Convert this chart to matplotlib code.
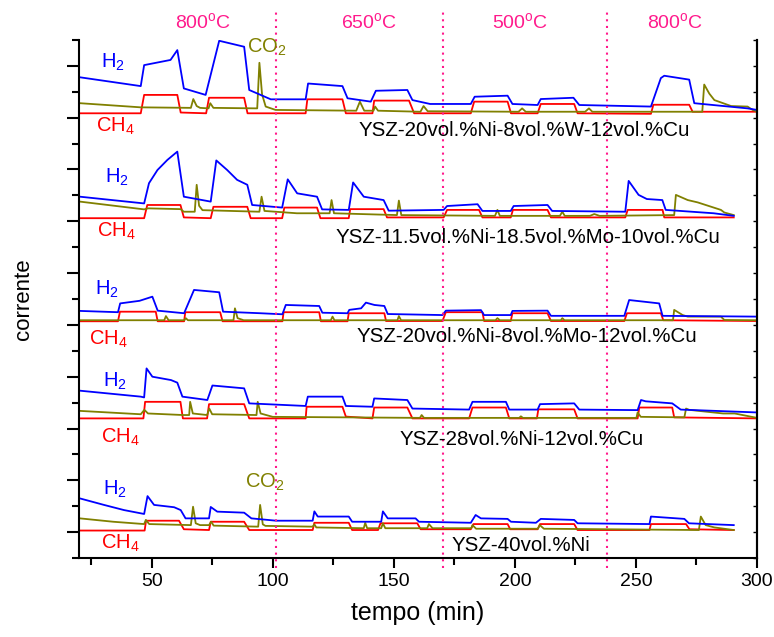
import numpy as np
import matplotlib
matplotlib.use('Agg')
import matplotlib.pyplot as plt
from matplotlib.ticker import FixedLocator, MultipleLocator
import matplotlib.transforms as mtransforms

plt.rcParams['font.family'] = ['Liberation Sans', 'DejaVu Sans']
plt.rcParams['mathtext.fontset'] = 'custom'
plt.rcParams['mathtext.rm'] = 'Liberation Sans'

BLUE = '#0000ff'
RED = '#ff0000'
OLIVE = '#808000'
PINK = '#ff1a8c'

# --- YSZ-20Ni-8W-12Cu (top trace group) ---
w_h2_t = [20.4, 45.5, 46.9, 57.8, 60.6, 63.3, 72.3, 77.9, 88.2, 90.3, 99.2, 113.6, 114.6, 128.8, 130.9, 140.5,
          142.6, 155.6, 157.7, 165.0, 181.8, 183.4, 197.0, 199.0, 209.4, 210.7, 224.2, 226.6, 256.2, 260.3,
          261.7, 272.0, 274.1, 296.1, 300.0]
w_h2 = [18.56, 18.22, 19.03, 19.23, 19.61, 18.13, 17.88, 19.97, 19.74, 18.07, 17.71, 17.71, 18.32, 18.22, 17.75,
        17.62, 18.04, 18.07, 17.68, 17.53, 17.53, 17.81, 17.85, 17.53, 17.49, 17.72, 17.77, 17.49, 17.43, 18.53,
        18.62, 18.47, 17.56, 17.36, 17.30]
w_ch4_t = [20.4, 45.5, 46.9, 60.6, 62.0, 72.5, 73.7, 88.2, 89.6, 113.6, 114.3, 128.8, 130.2, 141.2, 141.9, 156.3,
           158.4, 181.8, 183.2, 197.0, 198.4, 209.4, 210.7, 224.5, 225.9, 256.2, 257.2, 272.0, 273.4, 300.0]
w_ch4 = [17.17, 17.17, 17.88, 17.88, 17.20, 17.17, 17.77, 17.77, 17.17, 17.17, 17.71, 17.71, 17.17, 17.17, 17.66,
         17.66, 17.17, 17.17, 17.62, 17.62, 17.17, 17.17, 17.53, 17.53, 17.17, 17.15, 17.50, 17.50, 17.23, 17.23]
w_co2_t = [20.4, 45.5, 66.2, 67.2, 68.6, 70.0, 73.5, 74.2, 75.5, 93.6, 94.5, 95.6, 97.1, 101.2, 134.5, 136.0,
           137.8, 141.6, 142.3, 143.5, 161.0, 162.3, 164.0, 201.5, 203.0, 204.5, 229.0, 230.6, 232.0, 277.4,
           278.2, 280.3, 282.4, 289.3, 296.1, 298.2, 300.0]
w_co2 = [17.56, 17.40, 17.38, 17.72, 17.45, 17.38, 17.36, 17.56, 17.38, 17.36, 19.12, 17.90, 17.43, 17.30, 17.27,
         17.62, 17.27, 17.27, 17.43, 17.27, 17.23, 17.45, 17.25, 17.23, 17.36, 17.23, 17.23, 17.36, 17.23, 17.23,
         18.28, 17.93, 17.68, 17.45, 17.43, 17.30, 17.23]

# --- YSZ-11.5Ni-18.5Mo-10Cu ---
m18_h2_t = [20.4, 46.9, 48.9, 52.4, 56.5, 60.6, 63.3, 74.4, 76.7, 81.2, 85.3, 89.5, 91.5, 103.9, 106.2, 110.1,
            118.3, 120.4, 131.4, 133.2, 137.6, 145.8, 147.9, 170.6, 172.0, 184.6, 186.6, 198.3, 199.5, 213.5,
            215.4, 245.6, 247.0, 251.1, 254.5, 260.9, 262.3, 282.1, 290.4]
m18_h2 = [13.95, 13.69, 14.47, 14.98, 15.37, 15.69, 13.95, 13.76, 15.35, 14.98, 14.60, 14.41, 13.63, 13.53, 14.62,
          14.08, 13.95, 13.46, 13.44, 14.50, 13.95, 13.82, 13.41, 13.44, 13.59, 13.66, 13.40, 13.40, 13.59, 13.63,
          13.40, 13.37, 14.56, 14.02, 13.86, 13.82, 13.44, 13.31, 13.21]
m18_ch4_t = [20.4, 46.9, 48.2, 61.9, 63.3, 74.4, 75.5, 89.5, 90.9, 103.9, 104.8, 118.3, 119.7, 131.4, 132.0, 145.8,
             147.2, 170.6, 172.0, 185.2, 186.6, 198.3, 199.2, 213.5, 214.9, 245.6, 246.6, 261.0, 261.7, 290.4]
m18_ch4 = [13.12, 13.12, 13.63, 13.63, 13.15, 13.12, 13.56, 13.56, 13.12, 13.12, 13.53, 13.53, 13.12, 13.12, 13.47,
           13.47, 13.15, 13.15, 13.44, 13.44, 13.15, 13.15, 13.44, 13.44, 13.15, 13.15, 13.44, 13.44, 13.15, 13.15]
m18_co2_t = [20.4, 46.9, 48.5, 61.9, 63.3, 67.8, 68.6, 69.6, 71.0, 94.5, 95.4, 96.6, 110.0, 123.5, 124.3, 125.3,
             151.3, 152.1, 153.1, 191.8, 192.8, 193.8, 218.6, 219.6, 220.6, 231.0, 232.8, 235.0, 265.8, 266.5,
             271.4, 275.5, 285.1, 286.5, 290.4]
m18_co2 = [13.76, 13.46, 13.50, 13.47, 13.37, 13.37, 14.41, 13.60, 13.43, 13.37, 13.95, 13.40, 13.31, 13.31, 13.82,
           13.31, 13.24, 13.80, 13.24, 13.21, 13.44, 13.21, 13.21, 13.37, 13.21, 13.21, 13.28, 13.21, 13.24, 14.02,
           13.82, 13.73, 13.44, 13.34, 13.24]

# --- YSZ-20Ni-8Mo-12Cu ---
m8_h2_t = [20.4, 36.1, 37.0, 45.0, 50.3, 52.5, 63.4, 67.5, 77.9, 79.5, 95.0, 104.0, 105.4, 119.2, 120.5, 130.9,
           131.6, 136.5, 138.5, 142.0, 146.1, 147.5, 170.1, 171.5, 186.0, 187.3, 198.3, 199.0, 213.5, 214.9,
           245.2, 247.2, 259.6, 261.0, 300.0]
m8_h2 = [9.54, 9.49, 9.83, 9.93, 10.09, 9.55, 9.45, 10.35, 10.26, 9.51, 9.45, 9.41, 9.77, 9.73, 9.47, 9.45,
         9.58, 9.64, 9.86, 9.77, 9.73, 9.42, 9.38, 9.55, 9.57, 9.38, 9.38, 9.54, 9.55, 9.35, 9.35, 9.96, 9.83,
         9.35, 9.32]
m8_ch4_t = [20.4, 36.1, 36.9, 51.7, 52.5, 63.4, 63.9, 78.3, 79.3, 104.0, 104.5, 119.2, 119.9, 130.9, 131.4, 146.1,
            146.8, 170.1, 171.5, 186.6, 187.3, 198.3, 199.0, 213.5, 214.9, 245.2, 246.3, 260.3, 261.3, 300.0]
m8_ch4 = [9.14, 9.14, 9.51, 9.51, 9.14, 9.14, 9.49, 9.49, 9.14, 9.14, 9.49, 9.49, 9.14, 9.14, 9.45, 9.45,
          9.15, 9.15, 9.49, 9.49, 9.15, 9.15, 9.45, 9.45, 9.15, 9.15, 9.45, 9.45, 9.18, 9.15]
m8_co2_t = [20.4, 55.2, 55.9, 57.0, 63.5, 64.1, 65.0, 83.8, 84.4, 85.5, 88.0, 124.0, 124.7, 125.5, 151.5, 152.1,
            153.0, 192.0, 192.8, 193.8, 219.0, 219.6, 220.5, 265.3, 265.8, 269.3, 271.4, 285.1, 286.5, 300.0]
m8_co2 = [9.18, 9.18, 9.34, 9.18, 9.18, 9.26, 9.18, 9.18, 9.64, 9.26, 9.18, 9.18, 9.32, 9.18, 9.18, 9.34,
          9.18, 9.18, 9.26, 9.18, 9.18, 9.26, 9.18, 9.18, 9.58, 9.38, 9.32, 9.32, 9.19, 9.18]

# --- YSZ-28Ni-12Cu ---
cu_h2_t = [20.4, 45.5, 46.9, 47.9, 50.3, 58.0, 60.6, 62.7, 73.0, 75.1, 88.2, 90.3, 113.6, 114.5, 128.8, 130.2,
           141.2, 141.9, 155.6, 157.7, 181.1, 182.5, 196.3, 197.7, 209.4, 210.4, 224.5, 226.6, 250.7, 252.1,
           254.0, 265.0, 268.5, 300.0]
cu_h2 = [6.46, 6.23, 6.20, 7.32, 7.00, 6.87, 6.77, 6.23, 6.10, 6.66, 6.55, 5.97, 5.87, 6.23, 6.23, 5.87,
         5.84, 6.16, 6.10, 5.77, 5.73, 6.03, 6.03, 5.73, 5.73, 5.94, 5.97, 5.73, 5.71, 6.10, 6.05, 5.97, 5.73, 5.62]
cu_ch4_t = [20.4, 46.6, 47.3, 61.9, 62.9, 72.9, 73.7, 88.2, 90.3, 113.6, 114.0, 128.8, 130.2, 141.2, 141.9, 155.6,
            157.7, 181.1, 182.5, 196.3, 197.7, 209.1, 209.7, 224.5, 225.9, 250.7, 251.4, 265.0, 265.8, 300.0]
cu_ch4 = [5.39, 5.39, 6.03, 6.03, 5.39, 5.39, 5.94, 5.94, 5.39, 5.39, 5.84, 5.84, 5.46, 5.39, 5.81, 5.81,
          5.39, 5.39, 5.81, 5.81, 5.39, 5.39, 5.74, 5.74, 5.39, 5.39, 5.81, 5.81, 5.43, 5.39]
cu_co2_t = [20.4, 45.5, 47.0, 48.5, 63.0, 65.5, 65.9, 67.0, 72.9, 73.8, 75.0, 93.3, 93.8, 95.0, 100.0, 160.8,
            161.5, 162.5, 201.8, 202.5, 203.3, 250.2, 250.7, 252.0, 270.0, 270.7, 272.0, 286.0, 290.8, 300.0]
cu_co2 = [5.68, 5.55, 5.72, 5.58, 5.52, 5.52, 6.03, 5.58, 5.52, 5.77, 5.55, 5.52, 6.03, 5.58, 5.45, 5.41,
          5.52, 5.41, 5.41, 5.47, 5.41, 5.41, 5.62, 5.45, 5.43, 5.77, 5.72, 5.58, 5.58, 5.41]

# --- YSZ-40Ni (bottom) ---
ni_h2_t = [20.4, 30.3, 38.6, 46.9, 48.3, 51.0, 59.3, 62.0, 64.0, 73.7, 74.4, 77.1, 88.2, 91.2, 101.4, 116.5,
           117.2, 118.6, 131.4, 132.8, 144.8, 145.5, 147.5, 159.0, 160.4, 181.8, 183.8, 186.0, 197.0, 198.4,
           208.7, 210.7, 224.5, 225.9, 255.6, 256.2, 270.0, 271.9, 290.4]
ni_h2 = [2.30, 2.05, 1.85, 1.70, 2.39, 2.05, 1.96, 1.85, 1.53, 1.53, 1.97, 1.79, 1.75, 1.53, 1.44, 1.44,
         1.80, 1.60, 1.60, 1.40, 1.40, 1.80, 1.53, 1.53, 1.40, 1.36, 1.66, 1.53, 1.51, 1.40, 1.36, 1.51, 1.47,
         1.34, 1.31, 1.60, 1.51, 1.34, 1.27]
ni_ch4_t = [20.4, 47.1, 47.7, 61.3, 63.3, 73.7, 74.4, 88.2, 90.3, 116.5, 117.2, 131.4, 132.8, 143.5, 144.5, 159.7,
            161.1, 181.8, 182.9, 197.0, 198.1, 209.4, 210.4, 224.5, 225.9, 255.6, 256.2, 270.7, 272.1, 290.4]
ni_ch4 = [1.06, 1.06, 1.44, 1.44, 1.11, 1.08, 1.40, 1.40, 1.08, 1.08, 1.36, 1.36, 1.08, 1.08, 1.34, 1.34,
          1.11, 1.11, 1.31, 1.31, 1.11, 1.11, 1.31, 1.31, 1.08, 1.08, 1.31, 1.31, 1.11, 1.08]
ni_co2_t = [20.4, 34.1, 46.9, 47.6, 49.0, 66.2, 67.1, 68.2, 70.0, 73.7, 74.6, 75.6, 94.0, 94.8, 95.9, 97.0,
            116.5, 117.2, 118.0, 137.6, 138.2, 139.0, 144.8, 145.5, 146.5, 163.8, 164.5, 166.0, 182.0, 182.5,
            184.0, 209.5, 210.3, 212.0, 276.0, 276.8, 278.8, 282.4, 290.4]
ni_co2 = [1.53, 1.40, 1.31, 1.47, 1.31, 1.27, 1.98, 1.34, 1.27, 1.27, 1.40, 1.25, 1.21, 2.05, 1.30, 1.24,
          1.21, 1.30, 1.18, 1.15, 1.36, 1.15, 1.15, 1.34, 1.15, 1.15, 1.31, 1.15, 1.15, 1.27, 1.13, 1.13, 1.27,
          1.13, 1.08, 1.60, 1.27, 1.18, 1.08]

samples = ['YSZ-20vol.%Ni-8vol.%W-12vol.%Cu', 'YSZ-11.5vol.%Ni-18.5vol.%Mo-10vol.%Cu',
           'YSZ-20vol.%Ni-8vol.%Mo-12vol.%Cu', 'YSZ-28vol.%Ni-12vol.%Cu', 'YSZ-40vol.%Ni']
sample_xy = [(203.9, 16.52), (205.6, 12.36), (205.0, 8.57), (202.7, 4.56), (202.5, 0.50)]
h2_xy = [(28.9, 18.93), (30.6, 14.48), (26.6, 10.15), (30.0, 6.60), (30.0, 2.43)]
ch4_xy = [(26.9, 16.45), (27.6, 12.39), (24.1, 8.22), (28.9, 4.44), (28.9, 0.35)]
co2_xy = [(89.5, 19.50), (88.6, 2.70)]

switch_t = [101.2, 170.2, 238.0]
temps = ['800', '650', '500', '800']
temp_x = [71.1, 140.0, 202.0, 266.0]

fig = plt.figure(figsize=(7.74, 6.37), dpi=100)
ax = fig.add_axes([79 / 774, 1 - 558 / 637, 678 / 774, 518 / 637])

groups = [(w_h2_t, w_h2, w_ch4_t, w_ch4, w_co2_t, w_co2),
          (m18_h2_t, m18_h2, m18_ch4_t, m18_ch4, m18_co2_t, m18_co2),
          (m8_h2_t, m8_h2, m8_ch4_t, m8_ch4, m8_co2_t, m8_co2),
          (cu_h2_t, cu_h2, cu_ch4_t, cu_ch4, cu_co2_t, cu_co2),
          (ni_h2_t, ni_h2, ni_ch4_t, ni_ch4, ni_co2_t, ni_co2)]
for h_t, h, c_t, c, o_t, o in groups:
    ax.plot(c_t, c, color=RED, lw=1.3)
    ax.plot(o_t, o, color=OLIVE, lw=1.3)
    ax.plot(h_t, h, color=BLUE, lw=1.3)

for name, (x, y) in zip(samples, sample_xy):
    ax.text(x, y, name, fontsize=14.8, ha='center', va='center', color='black')
for x, y in h2_xy:
    ax.text(x, y, r'H$_\mathregular{2}$', fontsize=14.5, color=BLUE, va='baseline')
for x, y in ch4_xy:
    ax.text(x, y, r'CH$_\mathregular{4}$', fontsize=14.5, color=RED, va='baseline')
for x, y in co2_xy:
    ax.text(x, y, r'CO$_\mathregular{2}$', fontsize=14.5, color=OLIVE, va='baseline')

# switching temperatures
for x in switch_t:
    ax.axvline(x, ymin=-0.02, ymax=1.06, color=PINK, lw=1.5, ls=(0, (1, 2.2)), clip_on=False)
trans = mtransforms.blended_transform_factory(ax.transData, ax.transAxes)
for x, t in zip(temp_x, temps):
    ax.text(x, 1.021, t + r'$^\mathregular{o}$C', transform=trans, fontsize=14, color=PINK,
            ha='center', va='baseline')

ax.set_xlim(20, 300)
ax.set_ylim(0, 20)
ax.xaxis.set_major_locator(MultipleLocator(50))
ax.xaxis.set_minor_locator(MultipleLocator(25))
ax.yaxis.set_major_locator(FixedLocator(np.arange(1, 20, 2)))
ax.yaxis.set_minor_locator(FixedLocator(np.arange(0, 21, 2)))
ax.tick_params(axis='x', which='major', direction='out', length=7, width=1.5, labelsize=14)
ax.tick_params(axis='x', which='minor', direction='out', length=5, width=1.5)
ax.tick_params(axis='y', which='major', direction='out', length=8.5, width=1.5, labelleft=False)
ax.tick_params(axis='y', which='minor', direction='out', length=5, width=1.5)

sec = ax.secondary_yaxis('right')
sec.yaxis.set_major_locator(FixedLocator(np.arange(1, 20, 2)))
sec.yaxis.set_minor_locator(FixedLocator(np.arange(0, 21, 2)))
sec.tick_params(which='both', direction='in', length=3, width=1, labelright=False)
sec.spines['right'].set_linewidth(1.5)

ax.spines['top'].set_visible(False)
for s in ['left', 'bottom', 'right']:
    ax.spines[s].set_linewidth(1.5)

ax.set_xlabel('tempo (min)', fontsize=18, labelpad=8)
ax.set_ylabel('corrente', fontsize=16, labelpad=24)

fig.savefig('out.png', dpi=100)
